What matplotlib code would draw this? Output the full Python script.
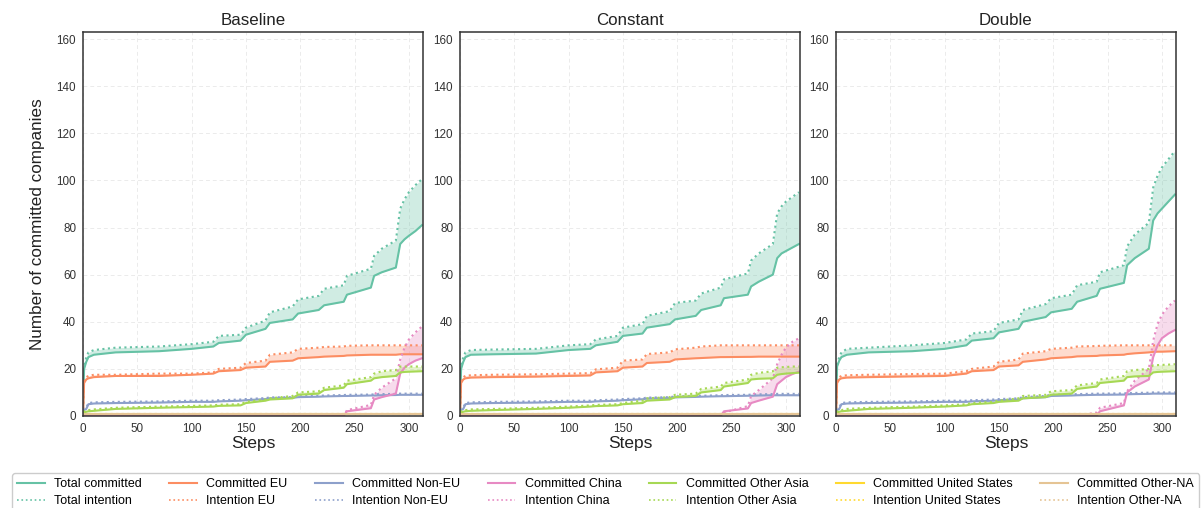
import matplotlib
matplotlib.use('Agg')
from matplotlib import pyplot as plt
from matplotlib.lines import Line2D

steps = [0, 1, 3, 5, 10, 30, 70, 100, 120, 125, 145, 150, 168, 172, 193, 198, 217, 222,
         240, 243, 265, 268, 275, 288, 292, 296, 300, 306, 312]

scenarios = ['Baseline', 'Constant', 'Double']
groups = ['Total', 'EU', 'Non-EU', 'China', 'Other Asia', 'United States', 'Other-NA']
colors = ['#66c2a5', '#fc8d62', '#8da0cb', '#e78ac3', '#a6d854', '#ffd92f', '#e5c494']

# ---- Baseline ----
base_total_c = [2, 20, 23, 25, 26, 27, 27.5, 28.5, 29.5, 31, 32, 34.5, 37, 39.5, 41, 43.5, 45, 47,
                48.5, 51.5, 54.5, 59.5, 61, 63, 73, 75, 76.5, 78.5, 81]
base_total_i = [3, 21, 25, 27, 28, 29, 29.5, 30.5, 31.5, 34, 34.5, 37.5, 40.5, 44, 46.5, 49.5, 51, 54,
                55.5, 59.5, 62.5, 68, 71, 74.5, 88, 92, 95, 98, 100.5]
base_eu_c = [0, 14, 15.5, 16, 16.5, 17, 17, 17.5, 18, 19, 19.5, 20.5, 21, 23, 23.5, 24.5, 25, 25.2,
             25.5, 25.7, 26, 26, 26, 26, 26.2, 26.2, 26.2, 26.2, 26.2]
base_eu_i = [0.5, 15, 16.5, 17, 17.5, 17.5, 18, 18, 18.5, 20, 20.5, 22.5, 23.5, 26, 27, 28.5, 29, 29.3,
             29.5, 29.8, 30, 30, 30, 30, 30, 30, 30, 30, 30]
base_noneu_c = [2, 2.5, 3, 5, 5.3, 5.5, 5.7, 6, 6, 6.2, 6.5, 6.7, 7.2, 7.5, 7.7, 8, 8.2, 8.3,
                8.5, 8.5, 8.7, 8.7, 8.8, 8.9, 9, 9, 9, 9, 9]
base_noneu_i = [2.5, 3, 3.5, 5.5, 5.8, 6, 6.2, 6.5, 6.5, 6.7, 7, 7.2, 7.6, 7.9, 8, 8.4, 8.6, 8.7,
                8.9, 9, 9.1, 9.2, 9.3, 9.4, 9.5, 9.5, 9.5, 9.5, 9.5]
base_china_c = [0, 0, 0, 0, 0, 0, 0, 0, 0, 0, 0, 0, 0, 0, 0, 0, 0, 0,
                0, 2, 3.3, 7, 8, 9.5, 18, 20.5, 22, 23.5, 24.5]
base_china_i = [0, 0, 0, 0, 0, 0, 0, 0, 0, 0, 0, 0, 0, 0, 0, 0, 0, 0,
                0, 2.5, 4.7, 9, 12, 16, 24, 29, 32.5, 35.5, 38]
base_asia_c = [1.5, 1.5, 1.8, 2, 2.2, 3, 3.5, 3.8, 4, 4.3, 4.5, 5.5, 6.5, 7, 7.5, 9, 9.5, 11,
               12, 13.5, 15, 16, 16.5, 17, 18.5, 18.7, 18.8, 18.9, 19]
base_asia_i = [2, 2, 2.3, 2.5, 2.8, 3.5, 4, 4.3, 4.5, 4.8, 5, 6, 7, 7.5, 8.5, 10, 10.5, 12,
               13, 15, 16.5, 18, 19, 19.5, 21, 21, 21, 21, 21]

# ---- Constant ----
const_total_c = [2, 20, 23, 25, 26, 26.2, 26.5, 28, 28.5, 30, 31.5, 34, 35, 37.5, 39, 41, 42.5, 45,
                 47, 50, 51.5, 55, 57, 60, 67, 69, 70, 71.5, 73]
const_total_i = [3, 21, 25, 27, 28, 28.2, 28.5, 30, 30.5, 32.5, 34, 37.5, 39, 42.5, 44.5, 48, 49, 52,
                 54.5, 58, 60.5, 66, 69, 73, 86, 89, 91, 93, 95]
const_eu_c = [0, 14, 15.5, 16, 16.3, 16.5, 16.7, 17, 17.2, 18.5, 19, 20.5, 21, 22.5, 23, 24, 24.5, 24.6,
              25, 25, 25.1, 25.1, 25.2, 25.2, 25.2, 25.2, 25.2, 25.2, 25.2]
const_eu_i = [0.5, 15, 16.5, 17, 17.3, 17.5, 17.7, 18, 18.2, 19.8, 20.5, 23.5, 24, 26.3, 27, 28.3, 29, 29.5,
              30, 30, 30, 30, 30, 30, 30, 30, 30, 30, 30]
const_noneu_c = [2, 2.5, 3, 5, 5.3, 5.5, 5.7, 6, 6, 6.2, 6.5, 6.7, 7.1, 7.4, 7.6, 7.9, 8.1, 8.2,
                 8.4, 8.4, 8.6, 8.6, 8.7, 8.8, 8.8, 8.8, 8.8, 8.8, 8.8]
const_noneu_i = [2.5, 3, 3.5, 5.5, 5.8, 6, 6.2, 6.5, 6.5, 6.7, 7, 7.2, 7.5, 7.8, 8, 8.3, 8.5, 8.6,
                 8.8, 8.9, 9, 9.1, 9.2, 9.3, 9.4, 9.4, 9.4, 9.4, 9.4]
const_china_c = [0, 0, 0, 0, 0, 0, 0, 0, 0, 0, 0, 0, 0, 0, 0, 0, 0, 0,
                 0, 2, 3.2, 5.5, 6.5, 8.2, 13.5, 15, 16.5, 17.8, 18.8]
const_china_i = [0, 0, 0, 0, 0, 0, 0, 0, 0, 0, 0, 0, 0, 0, 0, 0, 0, 0,
                 0, 1.5, 4.2, 8.5, 11, 16, 22, 26, 29, 31.5, 33]
const_asia_c = [1.5, 1.5, 1.8, 2, 2.2, 2.5, 3, 3.5, 4, 4.2, 4.5, 5, 5.5, 6.5, 7, 8, 8.5, 10,
                11, 12.5, 14, 15.5, 15.8, 16, 17.5, 17.8, 18, 18.2, 18.4]
const_asia_i = [2, 2, 2.3, 2.5, 2.8, 3, 3.5, 4, 4.5, 4.7, 5, 5.5, 6.5, 7.5, 8, 9, 9.5, 11.5,
                12.5, 14, 15.5, 17.5, 18.3, 19, 20.5, 20.7, 20.8, 21, 21]

# ---- Double ----
dbl_total_c = [2, 21, 23.5, 25, 26, 27, 27.5, 28.5, 30, 32, 33, 35.5, 37, 40, 42, 44, 45.5, 48.5,
               51, 54, 56.5, 64, 67, 71, 83, 86, 88, 91, 94]
dbl_total_i = [3, 22, 25, 27, 28.5, 29, 30, 31, 32.5, 35, 36, 39.5, 41, 45, 47.5, 50, 51.5, 55.5,
               57, 61, 64, 72, 77, 82, 97, 102, 105.5, 109, 112.5]
dbl_eu_c = [0, 14, 15.5, 16, 16.3, 16.5, 16.8, 17, 18, 19, 19.5, 21, 21.5, 23, 24, 24.5, 25, 25.3,
            25.5, 25.7, 26, 26.3, 26.6, 27, 27.2, 27.3, 27.3, 27.4, 27.5]
dbl_eu_i = [0.5, 15, 16.5, 17, 17.3, 17.5, 17.8, 18, 19, 20, 21, 23, 24, 26.5, 27.5, 28.5, 29, 29.5,
            29.7, 29.8, 30, 30, 30, 30, 30, 30, 30, 30, 30]
dbl_noneu_c = [2, 2.5, 3, 5, 5.3, 5.5, 5.7, 6, 6, 6.2, 6.5, 6.7, 7, 7.5, 8, 8.5, 8.7, 8.8,
               9, 9, 9.1, 9.2, 9.3, 9.4, 9.5, 9.5, 9.5, 9.5, 9.5]
dbl_noneu_i = [2.5, 3, 3.5, 5.5, 5.8, 6, 6.2, 6.5, 6.5, 6.7, 7, 7.2, 7.5, 8, 8.5, 9, 9.2, 9.3,
               9.5, 9.5, 9.6, 9.7, 9.8, 9.9, 10, 10, 10, 10, 10]
dbl_china_c = [0, 0, 0, 0, 0, 0, 0, 0, 0, 0, 0, 0, 0, 0, 0, 0, 0, 0,
               0, 2, 4.5, 10, 12.5, 15.5, 25, 30, 33, 35, 36.5]
dbl_china_i = [0, 0, 0, 0, 0, 0, 0, 0, 0, 0, 0, 0, 0, 0, 0, 0, 0, 0,
               1.5, 3.5, 5.5, 10.5, 15, 20, 32, 39, 43, 46.5, 49]
dbl_asia_c = [1.5, 1.5, 1.8, 2, 2.2, 3, 3.5, 4, 4.5, 5, 5.5, 6, 6.5, 7.5, 8, 9, 9.5, 11.5,
              12.5, 14, 15, 16.5, 16.8, 17, 18.5, 18.7, 18.8, 18.9, 19]
dbl_asia_i = [2, 2, 2.5, 2.5, 3, 3.5, 4, 4.5, 5, 5.5, 6, 6.5, 7.5, 8.5, 9, 10.5, 11, 13,
              14, 15.5, 17, 19, 19.5, 20, 21.5, 21.6, 21.7, 21.8, 22]

# United States and Other-NA stay flat near one company in every scenario
us_c = [0.8, 0.8, 0.8, 0.8, 0.8, 0.8, 0.8, 0.8, 0.8, 0.8, 0.8, 0.8, 0.8, 0.8, 0.8, 0.8, 0.8, 0.8,
        0.8, 0.8, 0.8, 0.8, 0.8, 0.8, 0.8, 0.8, 0.8, 0.8, 0.8]
us_i = [1, 1, 1, 1, 1, 1, 1, 1, 1, 1, 1, 1, 1, 1, 1, 1, 1, 1, 1, 1, 1, 1, 1, 1, 1, 1, 1, 1, 1]
na_c = [1, 1, 1, 1, 1, 1, 1, 1, 1, 1, 1, 1, 1, 1, 1, 1, 1, 1, 1, 1, 1, 1, 1, 1, 1, 1, 1, 1, 1]
na_i = [1, 1, 1, 1, 1, 1, 1, 1, 1, 1, 1, 1, 1, 1, 1, 1, 1, 1, 1, 1, 1, 1, 1, 1, 1, 1, 1, 1, 1]

panels = [
	[(base_total_c, base_total_i), (base_eu_c, base_eu_i), (base_noneu_c, base_noneu_i),
	 (base_china_c, base_china_i), (base_asia_c, base_asia_i), (us_c, us_i), (na_c, na_i)],
	[(const_total_c, const_total_i), (const_eu_c, const_eu_i), (const_noneu_c, const_noneu_i),
	 (const_china_c, const_china_i), (const_asia_c, const_asia_i), (us_c, us_i), (na_c, na_i)],
	[(dbl_total_c, dbl_total_i), (dbl_eu_c, dbl_eu_i), (dbl_noneu_c, dbl_noneu_i),
	 (dbl_china_c, dbl_china_i), (dbl_asia_c, dbl_asia_i), (us_c, us_i), (na_c, na_i)],
]

plt.rcParams['font.family'] = ['Liberation Sans', 'DejaVu Sans']

fig = plt.figure(figsize=(12.04, 5.08), dpi=100)
lefts = [83 / 1204, 460 / 1204, 836 / 1204]
width = 340 / 1204
bottom = 1 - 416 / 508
height = 384 / 508

for k, (name, series) in enumerate(zip(scenarios, panels)):
	ax = fig.add_axes([lefts[k], bottom, width, height])
	for (committed, intention), color in zip(series, colors):
		ax.fill_between(steps, committed, intention, color=color, alpha=0.3, lw=0)
		ax.plot(steps, committed, color=color, lw=1.5)
		ax.plot(steps, intention, color=color, lw=1.5, ls=':')

	ax.set_xlim(0, 313)
	ax.set_ylim(0, 163)
	ax.set_xticks(range(0, 301, 50))
	ax.set_yticks(range(0, 161, 20))
	ax.grid(True, color='#ebebeb', lw=0.7, ls=(0, (4, 3)))
	ax.set_axisbelow(True)
	ax.tick_params(length=0, labelsize=8.4, labelcolor='#333333', pad=5)
	for s in ax.spines.values():
		s.set_color('#333333')
		s.set_linewidth(1.1)
	ax.set_title(name, fontsize=12.2, color='#222222', pad=5)
	ax.set_xlabel('Steps', fontsize=12.5, color='#222222', labelpad=1)
	if k == 0:
		ax.set_ylabel('Number of committed companies', fontsize=12.3, color='#222222', labelpad=8)

handles, labels = [], []
for g, color in zip(groups, colors):
	handles.append(Line2D([], [], color=color, lw=1.5))
	handles.append(Line2D([], [], color=color, lw=1.2, ls=':'))
	if g == 'Total':
		labels += ['Total committed', 'Total intention']
	else:
		labels += [f'Committed {g}', f'Intention {g}']

fig.legend(handles, labels, ncol=7, loc='upper center', bbox_to_anchor=(0.503, 1 - 473 / 508),
		   fontsize=9, frameon=True, fancybox=True, edgecolor='#cccccc', framealpha=1,
		   handlelength=2.2, handletextpad=0.76, columnspacing=2.2, borderpad=0.4,
		   labelspacing=0.4, borderaxespad=0)

fig.savefig('out.png', dpi=100)
